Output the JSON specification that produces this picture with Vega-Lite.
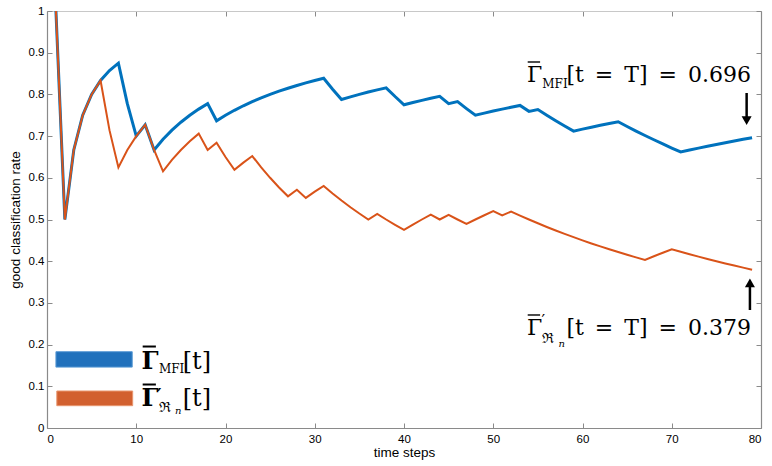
{
  "$schema": "https://vega.github.io/schema/vega-lite/v6.json",
  "description": "Good classification rate over time steps for two estimators.",
  "width": 714,
  "height": 417,
  "autosize": {"type": "none"},
  "padding": {"left": 47, "top": 11, "right": 11, "bottom": 38},
  "config": {
    "view": {"stroke": null},
    "axis": {
      "grid": false,
      "labelFont": "Liberation Sans",
      "titleFont": "Liberation Sans",
      "labelFontSize": 11.5,
      "titleFontSize": 13.5,
      "titleFontWeight": "normal",
      "labelColor": "#000000",
      "titleColor": "#000000",
      "domainColor": "#8a8a8a",
      "domainWidth": 1.2,
      "tickColor": "#8a8a8a",
      "tickSize": -5
    }
  },
  "datasets": {
    "rates": [
      {"t": 1, "rate": 1, "series": "MFI"},
      {"t": 2, "rate": 0.5, "series": "MFI"},
      {"t": 3, "rate": 0.6667, "series": "MFI"},
      {"t": 4, "rate": 0.75, "series": "MFI"},
      {"t": 5, "rate": 0.8, "series": "MFI"},
      {"t": 6, "rate": 0.8333, "series": "MFI"},
      {"t": 7, "rate": 0.8571, "series": "MFI"},
      {"t": 8, "rate": 0.875, "series": "MFI"},
      {"t": 9, "rate": 0.7778, "series": "MFI"},
      {"t": 10, "rate": 0.7, "series": "MFI"},
      {"t": 11, "rate": 0.7273, "series": "MFI"},
      {"t": 12, "rate": 0.6667, "series": "MFI"},
      {"t": 13, "rate": 0.6923, "series": "MFI"},
      {"t": 14, "rate": 0.7143, "series": "MFI"},
      {"t": 15, "rate": 0.7333, "series": "MFI"},
      {"t": 16, "rate": 0.75, "series": "MFI"},
      {"t": 17, "rate": 0.7647, "series": "MFI"},
      {"t": 18, "rate": 0.7778, "series": "MFI"},
      {"t": 19, "rate": 0.7368, "series": "MFI"},
      {"t": 20, "rate": 0.75, "series": "MFI"},
      {"t": 21, "rate": 0.7619, "series": "MFI"},
      {"t": 22, "rate": 0.7727, "series": "MFI"},
      {"t": 23, "rate": 0.7826, "series": "MFI"},
      {"t": 24, "rate": 0.7917, "series": "MFI"},
      {"t": 25, "rate": 0.8, "series": "MFI"},
      {"t": 26, "rate": 0.8077, "series": "MFI"},
      {"t": 27, "rate": 0.8148, "series": "MFI"},
      {"t": 28, "rate": 0.8214, "series": "MFI"},
      {"t": 29, "rate": 0.8276, "series": "MFI"},
      {"t": 30, "rate": 0.8333, "series": "MFI"},
      {"t": 31, "rate": 0.8387, "series": "MFI"},
      {"t": 32, "rate": 0.8125, "series": "MFI"},
      {"t": 33, "rate": 0.7879, "series": "MFI"},
      {"t": 34, "rate": 0.7941, "series": "MFI"},
      {"t": 35, "rate": 0.8, "series": "MFI"},
      {"t": 36, "rate": 0.8056, "series": "MFI"},
      {"t": 37, "rate": 0.8108, "series": "MFI"},
      {"t": 38, "rate": 0.8158, "series": "MFI"},
      {"t": 39, "rate": 0.7949, "series": "MFI"},
      {"t": 40, "rate": 0.775, "series": "MFI"},
      {"t": 41, "rate": 0.7805, "series": "MFI"},
      {"t": 42, "rate": 0.7857, "series": "MFI"},
      {"t": 43, "rate": 0.7907, "series": "MFI"},
      {"t": 44, "rate": 0.7955, "series": "MFI"},
      {"t": 45, "rate": 0.7778, "series": "MFI"},
      {"t": 46, "rate": 0.7826, "series": "MFI"},
      {"t": 47, "rate": 0.766, "series": "MFI"},
      {"t": 48, "rate": 0.75, "series": "MFI"},
      {"t": 49, "rate": 0.7551, "series": "MFI"},
      {"t": 50, "rate": 0.76, "series": "MFI"},
      {"t": 51, "rate": 0.7647, "series": "MFI"},
      {"t": 52, "rate": 0.7692, "series": "MFI"},
      {"t": 53, "rate": 0.7736, "series": "MFI"},
      {"t": 54, "rate": 0.7593, "series": "MFI"},
      {"t": 55, "rate": 0.7636, "series": "MFI"},
      {"t": 56, "rate": 0.75, "series": "MFI"},
      {"t": 57, "rate": 0.7368, "series": "MFI"},
      {"t": 58, "rate": 0.7241, "series": "MFI"},
      {"t": 59, "rate": 0.7119, "series": "MFI"},
      {"t": 60, "rate": 0.7167, "series": "MFI"},
      {"t": 61, "rate": 0.7213, "series": "MFI"},
      {"t": 62, "rate": 0.7258, "series": "MFI"},
      {"t": 63, "rate": 0.7302, "series": "MFI"},
      {"t": 64, "rate": 0.7344, "series": "MFI"},
      {"t": 65, "rate": 0.7231, "series": "MFI"},
      {"t": 66, "rate": 0.7121, "series": "MFI"},
      {"t": 67, "rate": 0.7015, "series": "MFI"},
      {"t": 68, "rate": 0.6912, "series": "MFI"},
      {"t": 69, "rate": 0.6812, "series": "MFI"},
      {"t": 70, "rate": 0.6714, "series": "MFI"},
      {"t": 71, "rate": 0.662, "series": "MFI"},
      {"t": 72, "rate": 0.6667, "series": "MFI"},
      {"t": 73, "rate": 0.6712, "series": "MFI"},
      {"t": 74, "rate": 0.6757, "series": "MFI"},
      {"t": 75, "rate": 0.68, "series": "MFI"},
      {"t": 76, "rate": 0.6842, "series": "MFI"},
      {"t": 77, "rate": 0.6883, "series": "MFI"},
      {"t": 78, "rate": 0.6923, "series": "MFI"},
      {"t": 79, "rate": 0.6962, "series": "MFI"},
      {"t": 1, "rate": 1, "series": "Rn"},
      {"t": 2, "rate": 0.5, "series": "Rn"},
      {"t": 3, "rate": 0.6667, "series": "Rn"},
      {"t": 4, "rate": 0.75, "series": "Rn"},
      {"t": 5, "rate": 0.8, "series": "Rn"},
      {"t": 6, "rate": 0.8333, "series": "Rn"},
      {"t": 7, "rate": 0.7143, "series": "Rn"},
      {"t": 8, "rate": 0.625, "series": "Rn"},
      {"t": 9, "rate": 0.6667, "series": "Rn"},
      {"t": 10, "rate": 0.7, "series": "Rn"},
      {"t": 11, "rate": 0.7273, "series": "Rn"},
      {"t": 12, "rate": 0.6667, "series": "Rn"},
      {"t": 13, "rate": 0.6154, "series": "Rn"},
      {"t": 14, "rate": 0.6429, "series": "Rn"},
      {"t": 15, "rate": 0.6667, "series": "Rn"},
      {"t": 16, "rate": 0.6875, "series": "Rn"},
      {"t": 17, "rate": 0.7059, "series": "Rn"},
      {"t": 18, "rate": 0.6667, "series": "Rn"},
      {"t": 19, "rate": 0.6842, "series": "Rn"},
      {"t": 20, "rate": 0.65, "series": "Rn"},
      {"t": 21, "rate": 0.619, "series": "Rn"},
      {"t": 22, "rate": 0.6364, "series": "Rn"},
      {"t": 23, "rate": 0.6522, "series": "Rn"},
      {"t": 24, "rate": 0.625, "series": "Rn"},
      {"t": 25, "rate": 0.6, "series": "Rn"},
      {"t": 26, "rate": 0.5769, "series": "Rn"},
      {"t": 27, "rate": 0.5556, "series": "Rn"},
      {"t": 28, "rate": 0.5714, "series": "Rn"},
      {"t": 29, "rate": 0.5517, "series": "Rn"},
      {"t": 30, "rate": 0.5667, "series": "Rn"},
      {"t": 31, "rate": 0.5806, "series": "Rn"},
      {"t": 32, "rate": 0.5625, "series": "Rn"},
      {"t": 33, "rate": 0.5455, "series": "Rn"},
      {"t": 34, "rate": 0.5294, "series": "Rn"},
      {"t": 35, "rate": 0.5143, "series": "Rn"},
      {"t": 36, "rate": 0.5, "series": "Rn"},
      {"t": 37, "rate": 0.5135, "series": "Rn"},
      {"t": 38, "rate": 0.5, "series": "Rn"},
      {"t": 39, "rate": 0.4872, "series": "Rn"},
      {"t": 40, "rate": 0.475, "series": "Rn"},
      {"t": 41, "rate": 0.4878, "series": "Rn"},
      {"t": 42, "rate": 0.5, "series": "Rn"},
      {"t": 43, "rate": 0.5116, "series": "Rn"},
      {"t": 44, "rate": 0.5, "series": "Rn"},
      {"t": 45, "rate": 0.5111, "series": "Rn"},
      {"t": 46, "rate": 0.5, "series": "Rn"},
      {"t": 47, "rate": 0.4894, "series": "Rn"},
      {"t": 48, "rate": 0.5, "series": "Rn"},
      {"t": 49, "rate": 0.5102, "series": "Rn"},
      {"t": 50, "rate": 0.52, "series": "Rn"},
      {"t": 51, "rate": 0.5098, "series": "Rn"},
      {"t": 52, "rate": 0.5192, "series": "Rn"},
      {"t": 53, "rate": 0.5094, "series": "Rn"},
      {"t": 54, "rate": 0.5, "series": "Rn"},
      {"t": 55, "rate": 0.4909, "series": "Rn"},
      {"t": 56, "rate": 0.4821, "series": "Rn"},
      {"t": 57, "rate": 0.4737, "series": "Rn"},
      {"t": 58, "rate": 0.4655, "series": "Rn"},
      {"t": 59, "rate": 0.4576, "series": "Rn"},
      {"t": 60, "rate": 0.45, "series": "Rn"},
      {"t": 61, "rate": 0.4426, "series": "Rn"},
      {"t": 62, "rate": 0.4355, "series": "Rn"},
      {"t": 63, "rate": 0.4286, "series": "Rn"},
      {"t": 64, "rate": 0.4219, "series": "Rn"},
      {"t": 65, "rate": 0.4154, "series": "Rn"},
      {"t": 66, "rate": 0.4091, "series": "Rn"},
      {"t": 67, "rate": 0.403, "series": "Rn"},
      {"t": 68, "rate": 0.4118, "series": "Rn"},
      {"t": 69, "rate": 0.4203, "series": "Rn"},
      {"t": 70, "rate": 0.4286, "series": "Rn"},
      {"t": 71, "rate": 0.4225, "series": "Rn"},
      {"t": 72, "rate": 0.4167, "series": "Rn"},
      {"t": 73, "rate": 0.411, "series": "Rn"},
      {"t": 74, "rate": 0.4054, "series": "Rn"},
      {"t": 75, "rate": 0.4, "series": "Rn"},
      {"t": 76, "rate": 0.3947, "series": "Rn"},
      {"t": 77, "rate": 0.3896, "series": "Rn"},
      {"t": 78, "rate": 0.3846, "series": "Rn"},
      {"t": 79, "rate": 0.3797, "series": "Rn"}
    ]
  },
  "layer": [
    {
      "layer": [
        {
          "data": {"name": "rates"},
          "transform": [{"filter": "datum.series == 'MFI'"}],
          "mark": {"type": "line", "color": "#0072BD", "strokeWidth": 3},
          "encoding": {
            "x": {
              "field": "t",
              "type": "quantitative",
              "scale": {"domain": [0, 80]},
              "axis": {"title": "time steps", "values": [0, 10, 20, 30, 40, 50, 60, 70, 80], "labelPadding": 10, "titlePadding": 1}
            },
            "y": {
              "field": "rate",
              "type": "quantitative",
              "scale": {"domain": [0, 1]},
              "axis": {"title": "good classification rate", "values": [0, 0.1, 0.2, 0.3, 0.4, 0.5, 0.6, 0.7, 0.8, 0.9, 1], "format": "~g", "labelPadding": 8, "titlePadding": 6}
            }
          }
        },
        {
          "data": {"name": "rates"},
          "transform": [{"filter": "datum.series == 'Rn'"}],
          "mark": {"type": "line", "color": "#D95319", "strokeWidth": 2},
          "encoding": {
            "x": {"field": "t", "type": "quantitative"},
            "y": {"field": "rate", "type": "quantitative"}
          }
        },
        {
          "data": {"values": [{}]},
          "mark": {"type": "rect", "color": "#2171BC", "stroke": "#5b9bd5", "strokeWidth": 1},
          "encoding": {"x": {"datum": 1.0}, "x2": {"datum": 9.55}, "y": {"datum": 0.183}, "y2": {"datum": 0.146}}
        },
        {
          "data": {"values": [{}]},
          "mark": {"type": "rect", "color": "#D2602F", "stroke": "#e8956e", "strokeWidth": 1},
          "encoding": {"x": {"datum": 1.1}, "x2": {"datum": 9.6}, "y": {"datum": 0.0887}, "y2": {"datum": 0.0535}}
        },
        {
          "data": {"values": [{}]},
          "mark": {"type": "text", "text": "Γ", "font": "DejaVu Serif", "fontSize": 24, "fontWeight": "bold", "align": "left", "baseline": "alphabetic"},
          "encoding": {"x": {"datum": 10.6}, "y": {"datum": 0.1415}}
        },
        {
          "data": {"values": [{}]},
          "mark": {"type": "rule", "color": "#000000", "strokeWidth": 2},
          "encoding": {"x": {"datum": 10.72}, "x2": {"datum": 12.2}, "y": {"datum": 0.1954}}
        },
        {
          "data": {"values": [{}]},
          "mark": {"type": "text", "text": "MFI", "font": "DejaVu Serif", "fontSize": 12, "align": "left", "baseline": "alphabetic"},
          "encoding": {"x": {"datum": 12.55}, "y": {"datum": 0.131}}
        },
        {
          "data": {"values": [{}]},
          "mark": {"type": "text", "text": "[t]", "font": "DejaVu Serif", "fontSize": 24, "align": "left", "baseline": "alphabetic"},
          "encoding": {"x": {"datum": 15.2}, "y": {"datum": 0.1415}}
        },
        {
          "data": {"values": [{}]},
          "mark": {"type": "text", "text": "Γ", "font": "DejaVu Serif", "fontSize": 24, "fontWeight": "bold", "align": "left", "baseline": "alphabetic"},
          "encoding": {"x": {"datum": 10.6}, "y": {"datum": 0.0528}}
        },
        {
          "data": {"values": [{}]},
          "mark": {"type": "rule", "color": "#000000", "strokeWidth": 2},
          "encoding": {"x": {"datum": 10.72}, "x2": {"datum": 12.2}, "y": {"datum": 0.1043}}
        },
        {
          "data": {"values": [{}]},
          "mark": {"type": "text", "text": "′", "font": "DejaVu Serif", "fontSize": 16, "fontWeight": "bold", "align": "left", "baseline": "alphabetic"},
          "encoding": {"x": {"datum": 12.35}, "y": {"datum": 0.0671}}
        },
        {
          "data": {"values": [{}]},
          "mark": {"type": "text", "text": "ℜ", "font": "DejaVu Serif", "fontSize": 14, "align": "left", "baseline": "alphabetic"},
          "encoding": {"x": {"datum": 12.5}, "y": {"datum": 0.0384}}
        },
        {
          "data": {"values": [{}]},
          "mark": {"type": "text", "text": "n", "font": "DejaVu Serif", "fontSize": 10, "fontStyle": "italic", "align": "left", "baseline": "alphabetic"},
          "encoding": {"x": {"datum": 14.35}, "y": {"datum": 0.033}}
        },
        {
          "data": {"values": [{}]},
          "mark": {"type": "text", "text": "[t]", "font": "DejaVu Serif", "fontSize": 24, "align": "left", "baseline": "alphabetic"},
          "encoding": {"x": {"datum": 15.2}, "y": {"datum": 0.0528}}
        },
        {
          "data": {"values": [{}]},
          "mark": {"type": "text", "text": "Γ", "font": "DejaVu Serif", "fontSize": 22, "align": "left", "baseline": "alphabetic"},
          "encoding": {"x": {"datum": 53.77}, "y": {"datum": 0.83}}
        },
        {
          "data": {"values": [{}]},
          "mark": {"type": "rule", "color": "#000000", "strokeWidth": 1.4},
          "encoding": {"x": {"datum": 53.86}, "x2": {"datum": 55.25}, "y": {"datum": 0.8777}}
        },
        {
          "data": {"values": [{}]},
          "mark": {"type": "text", "text": "MFI", "font": "DejaVu Serif", "fontSize": 12, "align": "left", "baseline": "alphabetic"},
          "encoding": {"x": {"datum": 55.5}, "y": {"datum": 0.815}}
        },
        {
          "data": {"values": [{}]},
          "mark": {"type": "text", "text": "[t\u2002=\u2002T]\u2002=\u20020.696", "font": "DejaVu Serif", "fontSize": 22, "align": "left", "baseline": "alphabetic"},
          "encoding": {"x": {"datum": 58.2}, "y": {"datum": 0.83}}
        },
        {
          "data": {"values": [{}]},
          "mark": {"type": "text", "text": "Γ", "font": "DejaVu Serif", "fontSize": 22, "align": "left", "baseline": "alphabetic"},
          "encoding": {"x": {"datum": 53.77}, "y": {"datum": 0.223}}
        },
        {
          "data": {"values": [{}]},
          "mark": {"type": "rule", "color": "#000000", "strokeWidth": 1.4},
          "encoding": {"x": {"datum": 53.86}, "x2": {"datum": 55.25}, "y": {"datum": 0.271}}
        },
        {
          "data": {"values": [{}]},
          "mark": {"type": "text", "text": "′", "font": "DejaVu Serif", "fontSize": 16, "align": "left", "baseline": "alphabetic"},
          "encoding": {"x": {"datum": 55.4}, "y": {"datum": 0.2446}}
        },
        {
          "data": {"values": [{}]},
          "mark": {"type": "text", "text": "ℜ", "font": "DejaVu Serif", "fontSize": 14, "align": "left", "baseline": "alphabetic"},
          "encoding": {"x": {"datum": 55.5}, "y": {"datum": 0.205}}
        },
        {
          "data": {"values": [{}]},
          "mark": {"type": "text", "text": "n", "font": "DejaVu Serif", "fontSize": 10, "fontStyle": "italic", "align": "left", "baseline": "alphabetic"},
          "encoding": {"x": {"datum": 57.3}, "y": {"datum": 0.194}}
        },
        {
          "data": {"values": [{}]},
          "mark": {"type": "text", "text": "[t\u2002=\u2002T]\u2002=\u20020.379", "font": "DejaVu Serif", "fontSize": 22, "align": "left", "baseline": "alphabetic"},
          "encoding": {"x": {"datum": 58.2}, "y": {"datum": 0.223}}
        },
        {
          "data": {"values": [{}]},
          "mark": {"type": "rule", "color": "#000000", "strokeWidth": 2.5},
          "encoding": {"x": {"datum": 78.39}, "y": {"datum": 0.8034}, "y2": {"datum": 0.735}}
        },
        {
          "data": {"values": [{}]},
          "mark": {"type": "point", "shape": "triangle-down", "filled": true, "color": "#000000", "opacity": 1, "size": 100},
          "encoding": {"x": {"datum": 78.39}, "y": {"datum": 0.737}}
        },
        {
          "data": {"values": [{}]},
          "mark": {"type": "rule", "color": "#000000", "strokeWidth": 2.5},
          "encoding": {"x": {"datum": 78.76}, "y": {"datum": 0.283}, "y2": {"datum": 0.35}}
        },
        {
          "data": {"values": [{}]},
          "mark": {"type": "point", "shape": "triangle-up", "filled": true, "color": "#000000", "opacity": 1, "size": 100},
          "encoding": {"x": {"datum": 78.76}, "y": {"datum": 0.348}}
        }
      ]
    },
    {
      "data": {"name": "rates"},
      "mark": {"type": "point", "opacity": 0},
      "encoding": {
        "x": {"field": "t", "type": "quantitative", "axis": {"orient": "top", "labels": false, "title": null, "values": [0, 10, 20, 30, 40, 50, 60, 70, 80], "domainColor": "#c8c8c8"}},
        "y": {"field": "rate", "type": "quantitative", "axis": {"orient": "right", "labels": false, "title": null, "values": [0, 0.1, 0.2, 0.3, 0.4, 0.5, 0.6, 0.7, 0.8, 0.9, 1]}}
      }
    }
  ],
  "resolve": {"axis": {"x": "independent", "y": "independent"}}
}
